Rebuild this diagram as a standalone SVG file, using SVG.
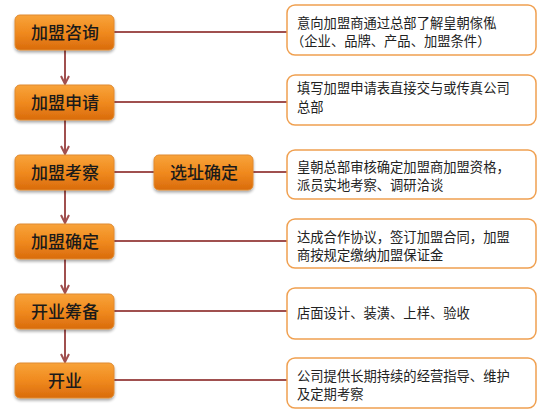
<svg xmlns="http://www.w3.org/2000/svg" width="550" height="414" viewBox="0 0 550 414">
<defs>
<linearGradient id="og" x1="0" y1="0" x2="0" y2="1">
<stop offset="0" stop-color="#f8a33a"/>
<stop offset="0.5" stop-color="#f08a1e"/>
<stop offset="1" stop-color="#d96b0c"/>
</linearGradient>
<filter id="sh" x="-10%" y="-20%" width="130%" height="160%">
<feGaussianBlur in="SourceAlpha" stdDeviation="1.5"/>
<feOffset dx="0" dy="2" result="b"/>
<feComponentTransfer><feFuncA type="linear" slope="0.35"/></feComponentTransfer>
<feMerge><feMergeNode/><feMergeNode in="SourceGraphic"/></feMerge>
</filter>
<marker id="ah" viewBox="0 0 10 10" refX="9" refY="5" markerWidth="5" markerHeight="5" orient="auto">
<path d="M1,1 L9,5 L1,9" fill="none" stroke="#a0504f" stroke-width="2"/>
</marker>
</defs>
<style>
.step rect{fill:url(#og);stroke:#e08a30;stroke-width:1;filter:url(#sh)}
.step text{font-family:"Noto Sans CJK SC",sans-serif;font-size:17px;font-weight:500;fill:#1a1a1a;text-anchor:middle}
.desc rect{fill:#fff;stroke:#f0a050;stroke-width:1.5}
.desc text{font-family:"Noto Sans CJK SC",sans-serif;font-size:13.3px;fill:#222}
.conn line{stroke:#a0504f;stroke-width:2}
</style>
<rect width="550" height="414" fill="#fff"/>
<g class="conn">
<line x1="114" y1="32" x2="287" y2="32"/>
<line x1="114" y1="102" x2="287" y2="102"/>
<line x1="114" y1="172" x2="154" y2="172"/>
<line x1="253" y1="172" x2="287" y2="172"/>
<line x1="114" y1="241" x2="287" y2="241"/>
<line x1="114" y1="311" x2="287" y2="311"/>
<line x1="114" y1="380" x2="287" y2="380"/>
<line x1="65" y1="50" x2="65" y2="84" marker-end="url(#ah)"/>
<line x1="65" y1="120" x2="65" y2="154" marker-end="url(#ah)"/>
<line x1="65" y1="190" x2="65" y2="223" marker-end="url(#ah)"/>
<line x1="65" y1="259" x2="65" y2="293" marker-end="url(#ah)"/>
<line x1="65" y1="328" x2="65" y2="362" marker-end="url(#ah)"/>
</g>
<g id="s1" class="step"><rect x="15" y="15" width="99" height="35" rx="5"/><text x="65" y="39">加盟咨询</text></g>
<g id="s2" class="step"><rect x="15" y="85" width="99" height="35" rx="5"/><text x="65" y="109">加盟申请</text></g>
<g id="s3" class="step"><rect x="15" y="155" width="99" height="35" rx="5"/><text x="65" y="179">加盟考察</text></g>
<g id="s3b" class="step"><rect x="154" y="155" width="99" height="35" rx="5"/><text x="204" y="179">选址确定</text></g>
<g id="s4" class="step"><rect x="15" y="224" width="99" height="35" rx="5"/><text x="65" y="248">加盟确定</text></g>
<g id="s5" class="step"><rect x="15" y="294" width="99" height="35" rx="5"/><text x="65" y="318">开业筹备</text></g>
<g id="s6" class="step"><rect x="15" y="363" width="99" height="35" rx="5"/><text x="65" y="387">开业</text></g>
<g id="d1" class="desc"><rect x="287" y="5" width="249" height="50" rx="8"/><text x="297" y="27.5">意向加盟商通过总部了解皇朝傢俬</text><text x="291" y="45.5">（企业、品牌、产品、加盟条件）</text></g>
<g id="d2" class="desc"><rect x="287" y="75" width="249" height="50" rx="8"/><text x="297" y="93">填写加盟申请表直接交与或传真公司</text><text x="297" y="111.5">总部</text></g>
<g id="d3" class="desc"><rect x="287" y="150" width="249" height="49" rx="8"/><text x="297" y="172">皇朝总部审核确定加盟商加盟资格，</text><text x="297" y="190">派员实地考察、调研洽谈</text></g>
<g id="d4" class="desc"><rect x="287" y="219" width="249" height="49" rx="8"/><text x="297" y="241.5">达成合作协议，签订加盟合同，加盟</text><text x="297" y="259.5">商按规定缴纳加盟保证金</text></g>
<g id="d5" class="desc"><rect x="287" y="288" width="249" height="51" rx="8"/><text x="297" y="318">店面设计、装潢、上样、验收</text></g>
<g id="d6" class="desc"><rect x="287" y="358" width="249" height="50" rx="8"/><text x="297" y="381">公司提供长期持续的经营指导、维护</text><text x="297" y="399">及定期考察</text></g>
</svg>
